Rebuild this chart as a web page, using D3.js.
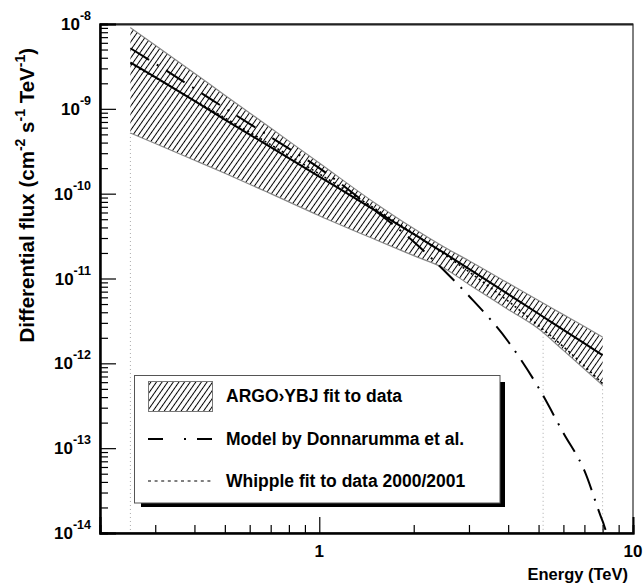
<!DOCTYPE html>
<html>
<head>
<meta charset="utf-8">
<script src="https://cdn.jsdelivr.net/npm/d3@7"></script>
<style>
body { margin: 0; background: #fff; }
text { font-family: "Liberation Sans", Arial, sans-serif; font-weight: bold; fill: #000; }
</style>
</head>
<body>
<script>
var width = 644;
var height = 585;

// values (TeV, cm^-2 s^-1 TeV^-1)
var energy = [0.25, 0.3, 0.4, 0.5, 0.7, 1, 1.5, 2, 2.5, 3, 4, 5, 6, 7, 8];
var argoFit = [3.52e-9, 2.37e-9, 1.24e-9, 7.48e-10, 3.53e-10, 1.59e-10, 6.41e-11, 3.33e-11,
               2.00e-11, 1.30e-11, 6.54e-12, 3.84e-12, 2.48e-12, 1.72e-12, 1.25e-12];
var argoUpper = [9.07e-9, 5.63e-9, 2.62e-9, 1.45e-9, 5.93e-10, 2.30e-10, 7.82e-11, 3.88e-11,
                 2.35e-11, 1.62e-11, 8.82e-12, 5.50e-12, 3.75e-12, 2.71e-12, 2.04e-12];
var argoLower = [5.19e-10, 3.90e-10, 2.48e-10, 1.74e-10, 1.00e-10, 5.50e-11, 2.90e-11, 1.86e-11,
                 1.32e-11, 8.52e-12, 4.32e-12, 2.55e-12, 1.42e-12, 8.57e-13, 5.51e-13];
var whippleFlux = [3.42e-9, 2.33e-9, 1.26e-9, 7.84e-10, 3.78e-10, 1.71e-10, 6.72e-11, 3.37e-11,
                   1.93e-11, 1.20e-11, 5.41e-12, 2.79e-12, 1.57e-12, 9.31e-13, 5.77e-13];
var modelEnergy = [0.25, 0.3, 0.4, 0.5, 0.7, 1, 1.5, 2, 2.5, 3, 4, 5, 6, 7, 8, 8.3, 8.6];
var modelFlux = [5.18e-9, 3.41e-9, 1.73e-9, 1.02e-9, 4.63e-10, 2.00e-10, 6.41e-11, 2.71e-11,
                 1.24e-11, 6.22e-12, 1.81e-12, 5.16e-13, 1.51e-13, 5.44e-14, 1.38e-14, 1.0e-14, 6e-15];
var guideEnergy = [0.25, 5.17, 8];
var yTickExp = [-8, -9, -10, -11, -12, -13, -14];
var xTickLabels = [1, 10];
var legendLabels = ["ARGO\u203aYBJ fit to data", "Model by Donnarumma et al.", "Whipple fit to data 2000/2001"];

var svg = d3.select("body")
    .append("svg")
    .attr("width", width)
    .attr("height", height);

var x = d3.scaleLog().domain([0.2, 10]).range([100, 633]);
var y = d3.scaleLog().domain([1e-14, 1e-8]).range([533, 24]);
var yMin = 1e-14;

var defs = svg.append("defs");
var hatch = defs.append("pattern")
    .attr("id", "hatch")
    .attr("patternUnits", "userSpaceOnUse")
    .attr("width", 4.6)
    .attr("height", 4.6)
    .attr("patternTransform", "rotate(35)");
hatch.append("line")
    .attr("x1", 2.3).attr("y1", -1)
    .attr("x2", 2.3).attr("y2", 5.6)
    .attr("stroke", "#000")
    .attr("stroke-width", 1);

defs.append("clipPath").attr("id", "frame")
    .append("rect")
    .attr("x", 100).attr("y", 24)
    .attr("width", 533).attr("height", 509);

var plot = svg.append("g").attr("clip-path", "url(#frame)");

// grey dotted guides below the band
var lowerAt = function(e) {
    var i = d3.bisectLeft(energy, e);
    if (i <= 0) return argoLower[0];
    if (i >= energy.length) return argoLower[energy.length - 1];
    var t = (Math.log(e) - Math.log(energy[i - 1])) / (Math.log(energy[i]) - Math.log(energy[i - 1]));
    return Math.exp(Math.log(argoLower[i - 1]) + t * (Math.log(argoLower[i]) - Math.log(argoLower[i - 1])));
};
plot.selectAll(".guide")
    .data(guideEnergy)
    .enter()
    .append("line")
    .attr("x1", function(d) { return x(d); })
    .attr("x2", function(d) { return x(d); })
    .attr("y1", function(d) { return y(lowerAt(d)); })
    .attr("y2", 533)
    .attr("stroke", "#aaa")
    .attr("stroke-width", 1)
    .attr("stroke-dasharray", "1 3");

// ARGO band
var band = d3.area()
    .x(function(d, i) { return x(energy[i]); })
    .y0(function(d, i) { return y(argoLower[i]); })
    .y1(function(d, i) { return y(argoUpper[i]); })
    .curve(d3.curveMonotoneX);
plot.append("path")
    .datum(energy)
    .attr("d", band)
    .attr("fill", "url(#hatch)");

var edge = function(vals) {
    return d3.line()
        .x(function(d, i) { return x(energy[i]); })
        .y(function(d) { return y(d); })
        .curve(d3.curveMonotoneX)(vals);
};
[argoUpper, argoLower].forEach(function(vals) {
    plot.append("path")
        .attr("d", edge(vals))
        .attr("fill", "none")
        .attr("stroke", "#888")
        .attr("stroke-width", 1.2);
});

// Whipple
plot.append("path")
    .attr("d", edge(whippleFlux))
    .attr("fill", "none")
    .attr("stroke", "#000")
    .attr("stroke-width", 1.6)
    .attr("stroke-dasharray", "2 3");

// ARGO best fit
plot.append("path")
    .attr("d", edge(argoFit))
    .attr("fill", "none")
    .attr("stroke", "#000")
    .attr("stroke-width", 2);

// Donnarumma model
var modelLine = d3.line()
    .x(function(d, i) { return x(modelEnergy[i]); })
    .y(function(d) { return y(Math.max(d, yMin)); })
    .curve(d3.curveMonotoneX);
plot.append("path")
    .attr("d", modelLine(modelFlux))
    .attr("fill", "none")
    .attr("stroke", "#000")
    .attr("stroke-width", 2)
    .attr("stroke-dasharray", "22 9 2 9");

// frame
svg.append("rect")
    .attr("x", 100).attr("y", 24)
    .attr("width", 533).attr("height", 509)
    .attr("fill", "none")
    .attr("stroke", "#000")
    .attr("stroke-width", 1);
svg.append("line").attr("x1", 100).attr("x2", 633).attr("y1", 24.5).attr("y2", 24.5)
    .attr("stroke", "#222").attr("stroke-width", 2);

// axes
var yMinor = [];
yTickExp.forEach(function(k) {
    if (k === -8) return;
    for (var m = 2; m <= 9; m++) yMinor.push(m * Math.pow(10, k));
});
var yMajor = yTickExp.map(function(k) { return Math.pow(10, k); });

var xMinor = [0.3, 0.4, 0.5, 0.6, 0.7, 0.8, 0.9, 2, 3, 4, 5, 6, 7, 8, 9];

svg.append("g")
    .attr("transform", "translate(100,0)")
    .call(d3.axisLeft(y).tickValues(yMinor).tickSize(-8).tickFormat(""));
svg.append("g")
    .attr("transform", "translate(100,0)")
    .call(d3.axisLeft(y).tickValues(yMajor).tickSize(-16).tickFormat(""));
svg.append("g")
    .attr("transform", "translate(0,533)")
    .call(d3.axisBottom(x).tickValues(xMinor).tickSize(-8).tickFormat(""));
svg.append("g")
    .attr("transform", "translate(0,533)")
    .call(d3.axisBottom(x).tickValues([1]).tickSize(-16).tickFormat(""));

svg.selectAll(".domain").attr("stroke", "#000").attr("stroke-width", 2);
svg.selectAll(".tick line").attr("stroke", "#000").attr("stroke-width", 1.2);

// y tick labels
yTickExp.forEach(function(k) {
    var t = svg.append("text")
        .attr("x", 91)
        .attr("y", y(Math.pow(10, k)) + 6)
        .attr("text-anchor", "end")
        .attr("font-size", "17px");
    t.append("tspan").text("10");
    t.append("tspan").attr("dy", -10).attr("font-size", "12.5px").text(String(k));
});

// x tick labels
svg.selectAll(".xlab")
    .data(xTickLabels)
    .enter()
    .append("text")
    .attr("x", function(d) { return x(d); })
    .attr("y", 557)
    .attr("text-anchor", "middle")
    .attr("font-size", "17px")
    .text(function(d) { return d; });

// axis titles
svg.append("text")
    .attr("x", 628)
    .attr("y", 580)
    .attr("text-anchor", "end")
    .attr("font-size", "16.5px")
    .text("Energy (TeV)");

var yt = svg.append("text")
    .attr("transform", "translate(34,48) rotate(-90)")
    .attr("text-anchor", "end")
    .attr("font-size", "20.5px");
yt.append("tspan").text("Differential flux (cm");
yt.append("tspan").attr("dy", -9).attr("font-size", "14px").text("-2");
yt.append("tspan").attr("dy", 9).text(" s");
yt.append("tspan").attr("dy", -9).attr("font-size", "14px").text("-1");
yt.append("tspan").attr("dy", 9).text(" TeV");
yt.append("tspan").attr("dy", -9).attr("font-size", "14px").text("-1");
yt.append("tspan").attr("dy", 9).text(")");

// legend
var legend = svg.append("g");
legend.append("rect")
    .attr("x", 141).attr("y", 382)
    .attr("width", 364).attr("height", 125)
    .attr("fill", "#000");
legend.append("rect")
    .attr("x", 134.5).attr("y", 375.5)
    .attr("width", 365.5).attr("height", 127.5)
    .attr("fill", "#fff")
    .attr("stroke", "#555")
    .attr("stroke-width", 1);

legend.append("rect")
    .attr("x", 148.5).attr("y", 381.5)
    .attr("width", 64).attr("height", 30)
    .attr("fill", "url(#hatch)")
    .attr("stroke", "#777")
    .attr("stroke-width", 1);
legend.append("line")
    .attr("x1", 148).attr("x2", 212)
    .attr("y1", 439).attr("y2", 439)
    .attr("stroke", "#000").attr("stroke-width", 2)
    .attr("stroke-dasharray", "15 21 2 11 15");
legend.append("line")
    .attr("x1", 148).attr("x2", 212)
    .attr("y1", 481).attr("y2", 481)
    .attr("stroke", "#000").attr("stroke-width", 1.2)
    .attr("stroke-dasharray", "3 3.6");

legend.selectAll(".lt")
    .data(legendLabels)
    .enter()
    .append("text")
    .attr("x", 226)
    .attr("y", function(d, i) { return [401.7, 445, 486.5][i]; })
    .attr("font-size", "17.5px")
    .text(function(d) { return d; });
</script>
</body>
</html>
